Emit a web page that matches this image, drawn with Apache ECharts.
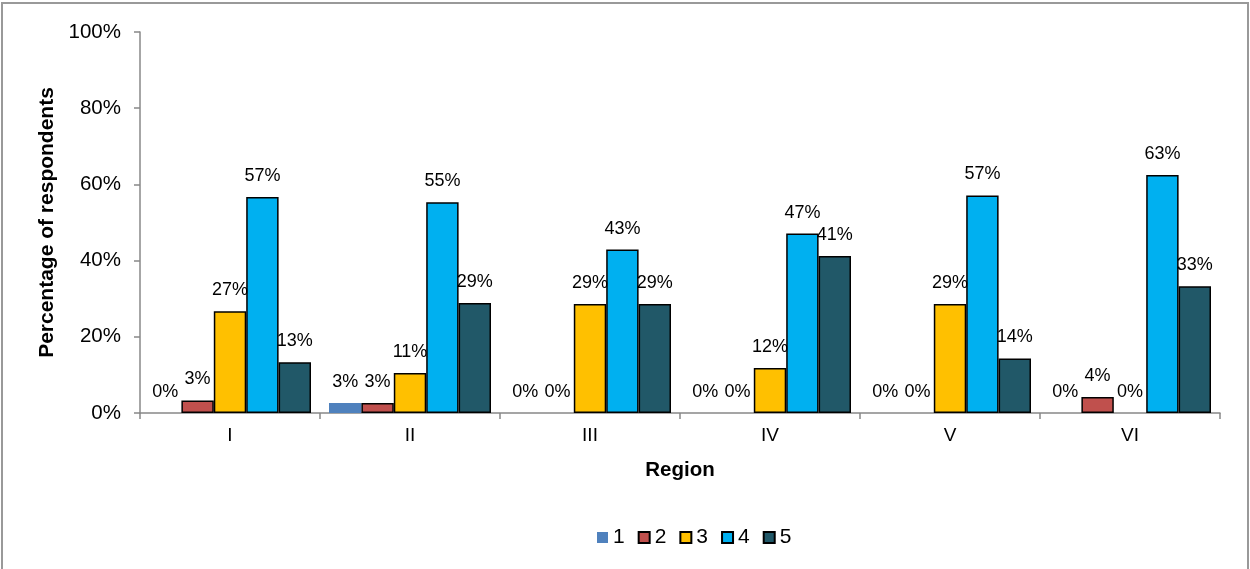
<!DOCTYPE html>
<html>
<head>
<meta charset="utf-8">
<script src="https://cdn.jsdelivr.net/npm/echarts@6/dist/echarts.min.js"></script>
<style>
  html, body { margin: 0; padding: 0; background: #fff; }
  #chart { width: 1250px; height: 569px; }
</style>
</head>
<body>
<div id="chart"></div>
<script>
// Regions on the x axis
const regions = ['I', 'II', 'III', 'IV', 'V', 'VI'];

// Share of respondents (%) giving each score, per region
const score1 = [0, 2.6, 0, 0, 0, 0];
const score2 = [3.3, 2.6, 0, 0, 0, 4.2];
const score3 = [26.7, 10.5, 28.6, 11.8, 28.6, 0];
const score4 = [56.7, 55.3, 42.9, 47.1, 57.1, 62.5];
const score5 = [13.3, 28.9, 28.6, 41.2, 14.3, 33.3];

const seriesNames = ['1', '2', '3', '4', '5'];
const seriesData = [score1, score2, score3, score4, score5];
const seriesColors = ['#4F81BD', '#C0504D', '#FFC000', '#00B0F0', '#215868'];

const font = 'Arial, "Liberation Sans", sans-serif';

const chart = echarts.init(document.getElementById('chart'), null, { renderer: 'canvas' });

const series = seriesNames.map((name, i) => {
  const bordered = i !== 0;
  return {
    name: name,
    type: 'bar',
    // zero-height bars get no outline so nothing is drawn on the baseline
    data: seriesData[i].map(v => ({
      value: v,
      itemStyle: { borderWidth: bordered && v > 0 ? 1.5 : 0 }
    })),
    barGap: '0%',
    barCategoryGap: '10%',
    itemStyle: {
      color: seriesColors[i],
      borderColor: bordered ? '#000' : seriesColors[i],
      borderWidth: bordered ? 1.5 : 0
    },
    label: {
      show: true,
      position: 'top',
      distance: 12,
      color: '#000',
      fontFamily: font,
      fontSize: 18,
      formatter: p => Math.round(p.value) + '%'
    },
    emphasis: { disabled: true },
    animation: false
  };
});

chart.setOption({
  animation: false,
  graphic: [{
    type: 'rect',
    shape: { x: 2, y: 3, width: 1246, height: 620 },
    style: { fill: 'none', stroke: '#999', lineWidth: 2 },
    silent: true
  }],
  grid: { left: 140, right: 30, top: 32, bottom: 156, containLabel: false },
  legend: {
    data: seriesNames,
    left: 592,
    top: 522,
    icon: 'rect',
    itemWidth: 11,
    itemHeight: 11,
    itemGap: 13,
    textStyle: { fontFamily: font, fontSize: 21, color: '#000' }
  },
  xAxis: {
    type: 'category',
    data: regions,
    name: 'Region',
    nameLocation: 'middle',
    nameGap: 47,
    nameTextStyle: { fontFamily: font, fontSize: 20.5, fontWeight: 'bold', color: '#000' },
    axisLine: { lineStyle: { color: '#888', width: 1.5 } },
    axisTick: { show: true, alignWithLabel: false, length: 6, lineStyle: { color: '#888', width: 1.5 } },
    axisLabel: { fontFamily: font, fontSize: 19, color: '#000', margin: 13 },
    splitLine: { show: false }
  },
  yAxis: {
    type: 'value',
    min: 0,
    max: 100,
    interval: 20,
    name: 'Percentage of respondents',
    nameLocation: 'middle',
    nameGap: 81,
    nameTextStyle: { fontFamily: font, fontSize: 21, fontWeight: 'bold', color: '#000' },
    axisLine: { show: true, lineStyle: { color: '#888', width: 1.5 } },
    axisTick: { show: true, length: 6, lineStyle: { color: '#888', width: 1.5 } },
    axisLabel: { fontFamily: font, fontSize: 20.5, color: '#000', margin: 19, formatter: v => v + '%' },
    splitLine: { show: false }
  },
  series: series
});
</script>
</body>
</html>
